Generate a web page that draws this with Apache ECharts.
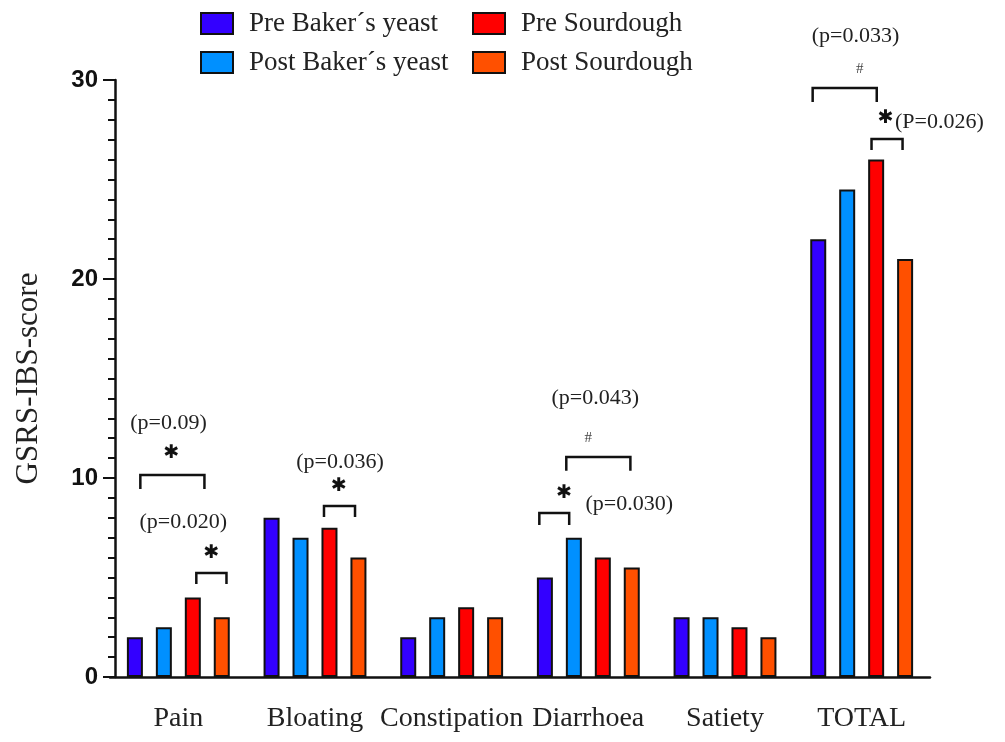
<!DOCTYPE html>
<html><head><meta charset="utf-8">
<script src="https://cdn.jsdelivr.net/npm/echarts@6/dist/echarts.min.js"></script>
<style>html,body{margin:0;padding:0;background:#fff}#c{width:1005px;height:742px}</style>
</head><body><div id="c"></div>
<script>
const categories = ['Pain', 'Bloating', 'Constipation', 'Diarrhoea', 'Satiety', 'TOTAL'];
const seriesNames = ['Pre Baker\u00b4s yeast', 'Post Baker\u00b4s yeast', 'Pre Sourdough', 'Post Sourdough'];
const preBaker = [2, 8, 2, 5, 3, 22];
const postBaker = [2.5, 7, 3, 7, 3, 24.5];
const preSour = [4, 7.5, 3.5, 6, 2.5, 26];
const postSour = [3, 6, 3, 5.5, 2, 21];
const yTicks = [0, 10, 20, 30];

// significance annotations: category, bracket level (score), marker and p-value text
const annCategory = [0, 0, 1, 3, 3, 5, 5];
const annLevel = [10.15, 5.23, 8.59, 11.06, 8.24, 29.6, 27.04];
const annMark = ['*', '*', '*', '#', '*', '#', '*'];
const annText = ['(p=0.09)', '(p=0.020)', '(p=0.036)', '(p=0.043)', '(p=0.030)', '(p=0.033)', '(P=0.026)'];

// layout of annotations (slot units across bars, score units vertically)
const annLayout = [
  {from: 0.19, to: 2.40, leg: 0.7, mx: 1.26, my: 11.26, tx: 1.16, ty: 12.76},
  {from: 2.12, to: 3.16, leg: 0.56, mx: 2.64, my: 6.23, tx: 1.67, ty: 7.79},
  {from: 1.81, to: 2.88, leg: 0.55, mx: 2.33, my: 9.6, tx: 2.36, ty: 10.8},
  {from: 0.74, to: 2.95, leg: 0.7, mx: 1.5, my: 12.0, tx: 1.74, ty: 14.02},
  {from: -0.19, to: 0.84, leg: 0.6, mx: 0.67, my: 9.25, tx: 2.91, ty: 8.69},
  {from: -0.19, to: 2.02, leg: 0.7, mx: 1.43, my: 30.55, tx: 1.29, ty: 32.2},
  {from: 1.84, to: 2.91, leg: 0.56, mx: 2.33, my: 28.1, tx: 4.18, ty: 27.9}
];

const colors = ['#3300ff', '#0090ff', '#ff0000', '#ff5000'];
const values = [preBaker, postBaker, preSour, postSour];
const SLOT = 29;
const serif = 'Liberation Serif';

const chart = echarts.init(document.getElementById('c'), null, {renderer: 'canvas'});

const barSeries = values.map((v, i) => ({
  name: seriesNames[i],
  type: 'bar',
  data: v,
  barWidth: 16,
  barGap: '81%',
  itemStyle: {color: colors[i], borderColor: '#111', borderWidth: 2},
  emphasis: {disabled: true}
}));

const annSeries = {
  type: 'custom',
  name: 'annotations',
  clip: false,
  silent: true,
  z: 5,
  data: annCategory.map((c, i) => [c, annLevel[i]]),
  renderItem: function (params, api) {
    const i = params.dataIndex;
    const a = annLayout[i];
    const cat = api.value(0);
    const lvl = api.value(1);
    const cx = api.coord([cat, 0])[0];
    const px = s => cx + (s - 1.5) * SLOT;
    const py = v => api.coord([cat, v])[1];
    const isStar = annMark[i] === '*';
    return {
      type: 'group',
      children: [
        {type: 'polyline', shape: {points: [[px(a.from), py(lvl - a.leg)], [px(a.from), py(lvl)], [px(a.to), py(lvl)], [px(a.to), py(lvl - a.leg)]]},
          style: {stroke: '#111', lineWidth: 2.5, fill: null}},
        {type: 'text', x: px(a.mx), y: py(a.my),
          style: isStar ? {text: '\u2731', fill: '#111', font: 'bold 19px "DejaVu Sans"', align: 'center', verticalAlign: 'middle'}
                        : {text: '#', fill: '#444', font: '15px "Liberation Serif"', align: 'center', verticalAlign: 'middle'}},
        {type: 'text', x: px(a.tx), y: py(a.ty),
          style: {text: annText[i], fill: '#222', font: '22px "Liberation Serif"', align: 'center', verticalAlign: 'middle'}}
      ]
    };
  }
};

const legendText = {fontFamily: serif, fontSize: 27, color: '#222', padding: [0, 0, 0, 11]};

chart.setOption({
  animation: false,
  backgroundColor: '#fff',
  legend: [
    {data: seriesNames.slice(0, 2), orient: 'vertical', left: 195, top: 5, icon: 'rect', itemWidth: 32, itemHeight: 21, itemGap: 12,
      textStyle: legendText, selectedMode: false},
    {data: seriesNames.slice(2, 4), orient: 'vertical', left: 467, top: 5, icon: 'rect', itemWidth: 32, itemHeight: 21, itemGap: 12,
      textStyle: legendText, selectedMode: false}
  ],
  grid: {left: 110, right: 75, top: 80, bottom: 65},
  xAxis: {
    type: 'category',
    data: categories,
    axisLine: {lineStyle: {color: '#111', width: 2.5}},
    axisTick: {alignWithLabel: true, length: 10, lineStyle: {color: '#111', width: 2}},
    axisLabel: {fontFamily: serif, fontSize: 28, color: '#222', margin: 28, interval: 0}
  },
  yAxis: {
    type: 'value',
    min: yTicks[0],
    max: yTicks[yTicks.length - 1],
    interval: 10,
    offset: -5,
    name: 'GSRS-IBS-score',
    nameLocation: 'middle',
    nameRotate: 90,
    nameGap: 71,
    nameTextStyle: {fontFamily: serif, fontSize: 31, color: '#222'},
    axisLine: {show: true, lineStyle: {color: '#111', width: 2.5}},
    axisTick: {show: true, length: 12, lineStyle: {color: '#111', width: 2}},
    minorTick: {show: true, splitNumber: 10, length: 7, lineStyle: {color: '#111', width: 2}},
    splitLine: {show: false},
    axisLabel: {fontFamily: 'Liberation Sans', fontWeight: 'bold', fontSize: 24, color: '#111', margin: 17}
  },
  series: [...barSeries, annSeries]
});
</script>
</body></html>
